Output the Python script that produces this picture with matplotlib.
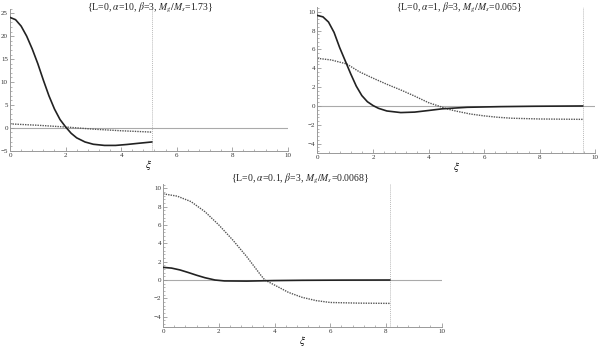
import matplotlib
matplotlib.use("Agg")
import matplotlib.pyplot as plt
from matplotlib.ticker import MultipleLocator, AutoMinorLocator

plt.rcParams['font.family'] = ['Liberation Serif', 'DejaVu Serif']
plt.rcParams['mathtext.fontset'] = 'stix'

# ---------------- data ----------------
titles = [r"{L=0, $\alpha$=10, $\beta$=3, $M_g/M_s$=1.73}",
          r"{L=0, $\alpha$=1, $\beta$=3, $M_g/M_s$=0.065}",
          r"{L=0, $\alpha$=0.1, $\beta$=3, $M_g/M_s$=0.0068}"]

# panel 1
p1_xs = [0, 0.2, 0.4, 0.6, 0.8, 1.0, 1.2, 1.4, 1.6, 1.8, 2.0, 2.2, 2.4, 2.7, 3.0, 3.4, 3.8, 4.2, 4.6, 5.1]
p1_solid = [24.1, 23.6, 22.2, 20.0, 17.2, 14.0, 10.4, 7.0, 4.1, 1.8, 0.2, -1.2, -2.2, -3.1, -3.6, -3.85, -3.85, -3.65, -3.4, -3.1]
p1_xd = [0, 1.0, 2.0, 3.0, 4.0, 5.1]
p1_dotted = [0.85, 0.55, 0.17, -0.3, -0.65, -0.94]
p1_edge = 5.1

# panel 2
p2_xs = [0, 0.2, 0.4, 0.6, 0.8, 1.0, 1.2, 1.4, 1.6, 1.8, 2.0, 2.2, 2.5, 3.0, 3.5, 4.0, 4.5, 5.4, 6.6, 7.8, 9.55]
p2_solid = [9.6, 9.45, 8.9, 7.8, 6.2, 4.8, 3.4, 2.1, 1.1, 0.45, 0.05, -0.25, -0.53, -0.7, -0.65, -0.48, -0.3, -0.14, -0.07, -0.03, 0.0]
p2_xd = [0, 0.5, 1.06, 1.5, 2.0, 2.5, 3.0, 3.5, 4.0, 4.36, 4.66, 5.0, 5.5, 6.0, 6.5, 7.0, 8.0, 9.55]
p2_dotted = [5.05, 4.88, 4.45, 3.64, 2.95, 2.3, 1.7, 1.05, 0.35, 0.0, -0.3, -0.55, -0.85, -1.05, -1.2, -1.3, -1.38, -1.42]
p2_edge = 9.55

# panel 3
p3_xs = [0, 0.3, 0.6, 0.9, 1.2, 1.5, 1.86, 2.2, 3.0, 4.0, 5.0, 6.5, 8.14]
p3_solid = [1.38, 1.3, 1.1, 0.82, 0.52, 0.25, 0.0, -0.1, -0.12, -0.06, -0.03, -0.01, 0.0]
p3_xd = [0, 0.5, 1.0, 1.5, 2.0, 2.5, 3.0, 3.5, 3.65, 4.0, 4.5, 5.0, 5.5, 6.0, 7.0, 8.14]
p3_dotted = [9.4, 9.15, 8.55, 7.45, 6.0, 4.36, 2.55, 0.55, 0.0, -0.55, -1.35, -1.9, -2.25, -2.45, -2.52, -2.55]
p3_edge = 8.14

x_ticks = [0, 2, 4, 6, 8, 10]

fig = plt.figure(figsize=(6, 3.48), dpi=100)

panels = [
    dict(rect=[0.0167, 0.567, 0.463, 0.408], ylim=(-5, 26), ystep=5,
         xs=p1_xs, ys=p1_solid, xd=p1_xd, yd=p1_dotted, edge=p1_edge, title=titles[0],
         tpos=(0.25, 0.977)),
    dict(rect=[0.529, 0.560, 0.463, 0.420], ylim=(-5, 10.5), ystep=2,
         xs=p2_xs, ys=p2_solid, xd=p2_xd, yd=p2_dotted, edge=p2_edge, title=titles[1],
         tpos=(0.765, 0.977)),
    dict(rect=[0.272, 0.061, 0.464, 0.411], ylim=(-5.1, 10.5), ystep=2,
         xs=p3_xs, ys=p3_solid, xd=p3_xd, yd=p3_dotted, edge=p3_edge, title=titles[2],
         tpos=(0.5, 0.487)),
]

axc = '#999999'
for p in panels:
    ax = fig.add_axes(p['rect'])
    ax.set_xlim(0, 10)
    ax.set_ylim(*p['ylim'])
    ax.axhline(0, color='#aaaaaa', lw=0.8, zorder=1)
    ax.axvline(p['edge'], color='#bbbbbb', lw=0.7, ls=(0, (1, 1)), zorder=1)
    ax.plot(p['xd'], p['yd'], color='#555555', lw=1.0, ls=(0, (1, 0.8)), zorder=2)
    ax.plot(p['xs'], p['ys'], color='#222222', lw=1.2, zorder=3)
    for s in ['top', 'right']:
        ax.spines[s].set_visible(False)
    for s in ['left', 'bottom']:
        ax.spines[s].set_color(axc)
        ax.spines[s].set_linewidth(0.7)
    ax.set_xticks(x_ticks)
    ax.xaxis.set_minor_locator(AutoMinorLocator(5))
    ax.yaxis.set_major_locator(MultipleLocator(p['ystep']))
    ax.yaxis.set_minor_locator(AutoMinorLocator(5))
    ax.tick_params(which='both', direction='in', color=axc, labelsize=5, labelcolor='#333333', pad=1.5)
    ax.tick_params(which='major', length=3, width=0.6)
    ax.tick_params(which='minor', length=1.5, width=0.5)
    fig.text(p['tpos'][0], p['tpos'][1], p['title'], fontsize=7, color='#222222',
             ha='center', va='center')
    ax.set_xlabel(r"$\xi$", fontsize=8, labelpad=0)
    ax.patch.set_visible(False)

fig.savefig('out.png', dpi=100)
